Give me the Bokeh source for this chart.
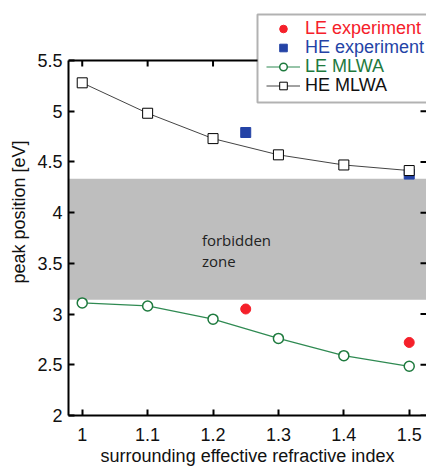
from bokeh.plotting import figure
from bokeh.models import (Range1d, LinearAxis, FixedTicker, BoxAnnotation, Label,
                          Legend, LegendItem, Span)
from bokeh.embed import file_html
from bokeh.resources import INLINE

# ---- data ----
n_mlwa = [1.0, 1.1, 1.2, 1.3, 1.4, 1.5]
le_mlwa = [3.11, 3.08, 2.95, 2.76, 2.59, 2.485]
he_mlwa = [5.28, 4.98, 4.73, 4.57, 4.47, 4.415]
n_exp = [1.25, 1.5]
le_exp = [3.05, 2.72]
he_exp = [4.79, 4.38]
forbidden_low, forbidden_high = 3.14, 4.335
x_ticks = [1.0, 1.1, 1.2, 1.3, 1.4, 1.5]
x_tick_labels = ["1", "1.1", "1.2", "1.3", "1.4", "1.5"]
y_ticks = [2.0, 2.5, 3.0, 3.5, 4.0, 4.5, 5.0, 5.5]
y_tick_labels = ["2", "2.5", "3", "3.5", "4", "4.5", "5", "5.5"]
legend_labels = ["LE experiment", "HE experiment", "LE MLWA", "HE MLWA"]

RED = "#f5202a"
BLUE = "#2443a6"
GREEN = "#1e7a3e"
FONT = "Liberation Sans"

# layout (canvas pixels)
W, H = 426, 475
LEFT, BOTTOM, TOP = 68, 60, 8
frame_w = W - LEFT
frame_h = H - BOTTOM - TOP
x_lo, px_per_x = 0.979, 654.0
y_lo, y_hi_axis = 2.0, 5.5
px_per_y = 355.0 / 3.5
x_hi = x_lo + frame_w / px_per_x
y_hi = y_lo + frame_h / px_per_y

p = figure(width=W, height=H, output_backend="svg", toolbar_location=None,
           x_range=Range1d(x_lo, x_hi), y_range=Range1d(y_lo, y_hi),
           min_border_left=LEFT, min_border_top=TOP, min_border_bottom=BOTTOM,
           min_border_right=0, x_axis_location=None, y_axis_location=None)
p.grid.visible = False
p.outline_line_color = None
p.background_fill_color = "white"

def style_axis(ax, ticks, labels):
    ax.ticker = FixedTicker(ticks=ticks)
    ax.major_label_overrides = {t: l for t, l in zip(ticks, labels)}
    ax.axis_line_width = 2
    ax.axis_line_color = "black"
    ax.major_tick_line_width = 2
    ax.major_tick_in = 6
    ax.major_tick_out = 0
    ax.minor_tick_line_color = None
    ax.major_label_text_font = FONT
    ax.major_label_text_font_size = "18px"
    ax.major_label_text_color = "#111111"
    ax.axis_label_text_font = FONT
    ax.axis_label_text_font_size = "18px"
    ax.axis_label_text_font_style = "normal"
    ax.axis_label_text_color = "#111111"

xb = LinearAxis(axis_label="surrounding effective refractive index")
style_axis(xb, x_ticks, x_tick_labels)
xb.major_label_standoff = 12
xb.axis_label_standoff = 2
p.add_layout(xb, "below")

yl = LinearAxis(axis_label="peak position [eV]")
style_axis(yl, y_ticks, y_tick_labels)
yl.bounds = (y_lo, y_hi_axis)
yl.major_label_standoff = 6
yl.axis_label_standoff = 5
p.add_layout(yl, "left")

# forbidden zone
band = BoxAnnotation(bottom=forbidden_low, top=forbidden_high, fill_color="#bebebe",
                     fill_alpha=1.0, line_color=None, level="underlay")
p.add_layout(band)
p.add_layout(Label(x=1.183, y=3.735, text="forbidden", text_font="Open Sans",
                   text_font_size="15px", text_color="#222222",
                   text_baseline="alphabetic"))
p.add_layout(Label(x=1.183, y=3.528, text="zone", text_font="Open Sans",
                   text_font_size="15px", text_color="#222222",
                   text_baseline="alphabetic"))

# top spine and inward ticks on top / right
p.add_layout(Span(location=y_hi_axis, dimension="width", line_color="black",
                  line_width=2))
tick_dy = 6 / px_per_y
tick_dx = 6 / px_per_x
p.segment(x0=x_ticks, y0=[y_hi_axis] * len(x_ticks), x1=x_ticks,
          y1=[y_hi_axis - tick_dy] * len(x_ticks), line_color="black", line_width=2)
p.segment(x0=[x_hi - tick_dx] * len(y_ticks), y0=y_ticks, x1=[x_hi] * len(y_ticks),
          y1=y_ticks, line_color="black", line_width=2)

# experiments
r_le_exp = p.scatter(n_exp, le_exp, marker="circle", size=10, fill_color=RED,
                     line_color=RED)
r_he_exp = p.scatter(n_exp, he_exp, marker="square", size=10, fill_color=BLUE,
                     line_color=BLUE)
# MLWA
r_le_line = p.line(n_mlwa, le_mlwa, line_color="#2f8a52", line_width=1.2)
r_le_pts = p.scatter(n_mlwa, le_mlwa, marker="circle", size=10, fill_color="white",
                     line_color=GREEN, line_width=1.5)
r_he_line = p.line(n_mlwa, he_mlwa, line_color="#444444", line_width=1)
r_he_pts = p.scatter(n_mlwa, he_mlwa, marker="square", size=10, fill_color="white",
                     line_color="black", line_width=1)

# legend box (page y 14..102, left 257) in frame screen units
frame_bottom = H - BOTTOM
box = BoxAnnotation(left=257 - LEFT, right=frame_w + 20, top=frame_bottom - 14,
                    bottom=frame_bottom - 102, left_units="screen", right_units="screen",
                    top_units="screen", bottom_units="screen",
                    fill_color="white", fill_alpha=1.0, line_color="black", line_width=2)
p.add_layout(box)

renderers = [[r_le_exp], [r_he_exp], [r_le_line, r_le_pts], [r_he_line, r_he_pts]]
colors = [RED, BLUE, GREEN, "#111111"]
for i, (lab, rs, c) in enumerate(zip(legend_labels, renderers, colors)):
    item_bottom_page = 20 + 19 * (i + 1)
    leg = Legend(items=[LegendItem(label=lab, renderers=rs)],
                 location=(266 - LEFT, frame_bottom - item_bottom_page),
                 margin=0, padding=0, spacing=0, glyph_width=34, glyph_height=19,
                 label_height=19, label_standoff=5, label_text_font=FONT,
                 label_text_font_size="18px", label_text_color=c,
                 border_line_alpha=0, background_fill_alpha=0)
    p.add_layout(leg)

open("out.html", "w").write(file_html(p, INLINE))
